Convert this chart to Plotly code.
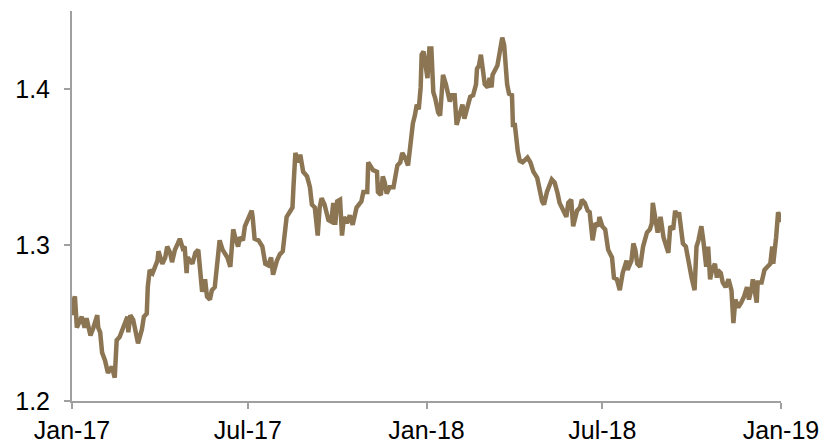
import pandas as pd
import plotly.graph_objects as go

# Day offsets from 2017-01-01 and the series values
day_offset = [
    0, 1, 3, 5, 10, 13, 15, 19, 22, 26, 27, 29, 31, 34, 37, 41, 44, 46, 49, 53,
    57, 58, 60, 63, 67, 68, 72, 74, 77, 78, 80, 83, 88, 89, 93, 96, 98, 101, 103, 106,
    109, 111, 114, 116, 118, 119, 124, 127, 130, 132, 134, 137, 139, 142, 144, 147, 150, 152, 155, 160,
    163, 166, 168, 171, 173, 176, 178, 181, 185, 186, 188, 192, 196, 199, 202, 205, 207, 211, 214, 217,
    221, 224, 227, 228, 230, 233, 235, 238, 242, 245, 247, 250, 253, 255, 257, 260, 264, 267, 269, 271,
    273, 276, 278, 280, 283, 286, 289, 293, 298, 300, 304, 305, 308, 310, 314, 315, 318, 320, 322, 324,
    327, 331, 335, 338, 340, 343, 346, 349, 351, 353, 355, 357, 359, 360, 362, 366, 368, 370, 372, 374,
    377, 379, 382, 385, 387, 389, 391, 394, 396, 397, 402, 404, 407, 410, 413, 416, 417, 419, 421, 423,
    425, 428, 430, 432, 433, 438, 441, 443, 445, 448, 450, 453, 454, 456, 459, 461, 464, 469, 472, 475,
    479, 482, 484, 486, 489, 494, 497, 500, 502, 506, 509, 511, 514, 516, 520, 523, 525, 528, 531, 533,
    536, 539, 542, 543, 546, 549, 552, 556, 558, 561, 564, 567, 571, 572, 576, 578, 580, 582, 585, 588,
    592, 595, 597, 598, 600, 603, 606, 609, 612, 614, 616, 619, 621, 623, 625, 627, 629, 632, 634, 636,
    638, 641, 643, 645, 648, 650, 653, 655, 657, 659, 662, 664, 665, 668, 670, 673, 676, 679, 681, 683,
    686, 689, 692, 695, 697, 700, 701, 705, 706, 710, 713, 716, 719, 721, 722, 725, 727, 729, 731,
]
values = [
    1.255, 1.263, 1.267, 1.247, 1.254, 1.247, 1.253, 1.242, 1.247, 1.255, 1.247, 1.244, 1.231, 1.226, 1.218, 1.222, 1.215, 1.239, 1.241, 1.247,
    1.254, 1.244, 1.255, 1.252, 1.242, 1.237, 1.246, 1.254, 1.256, 1.273, 1.284, 1.282, 1.290, 1.296, 1.288, 1.292, 1.299, 1.295, 1.289, 1.297,
    1.301, 1.304, 1.298, 1.299, 1.282, 1.292, 1.288, 1.295, 1.297, 1.282, 1.270, 1.278, 1.267, 1.265, 1.271, 1.273, 1.290, 1.303, 1.297, 1.292,
    1.286, 1.310, 1.305, 1.299, 1.305, 1.303, 1.312, 1.316, 1.322, 1.318, 1.304, 1.303, 1.299, 1.288, 1.287, 1.292, 1.281, 1.290, 1.294, 1.296,
    1.318, 1.321, 1.324, 1.337, 1.359, 1.353, 1.358, 1.347, 1.344, 1.337, 1.326, 1.324, 1.306, 1.324, 1.330, 1.326, 1.316, 1.315, 1.327, 1.313,
    1.328, 1.329, 1.306, 1.318, 1.314, 1.319, 1.313, 1.324, 1.328, 1.334, 1.334, 1.353, 1.349, 1.348, 1.347, 1.334, 1.332, 1.344, 1.340, 1.333,
    1.337, 1.337, 1.351, 1.353, 1.359, 1.356, 1.351, 1.372, 1.378, 1.383, 1.390, 1.387, 1.401, 1.422, 1.424, 1.407, 1.426, 1.426, 1.398, 1.394,
    1.385, 1.383, 1.409, 1.403, 1.398, 1.392, 1.396, 1.396, 1.377, 1.379, 1.390, 1.381, 1.388, 1.395, 1.396, 1.403, 1.413, 1.415, 1.422, 1.413,
    1.403, 1.401, 1.407, 1.401, 1.409, 1.415, 1.424, 1.433, 1.428, 1.403, 1.397, 1.396, 1.377, 1.377, 1.360, 1.354, 1.353, 1.356, 1.353, 1.347,
    1.343, 1.332, 1.328, 1.326, 1.334, 1.342, 1.340, 1.333, 1.327, 1.322, 1.318, 1.327, 1.329, 1.312, 1.322, 1.324, 1.329, 1.327, 1.322, 1.321,
    1.303, 1.314, 1.312, 1.318, 1.312, 1.310, 1.297, 1.292, 1.279, 1.278, 1.271, 1.282, 1.290, 1.284, 1.290, 1.301, 1.297, 1.288, 1.286, 1.299,
    1.308, 1.310, 1.314, 1.327, 1.318, 1.308, 1.318, 1.305, 1.299, 1.295, 1.312, 1.310, 1.322, 1.318, 1.321, 1.308, 1.301, 1.299, 1.292, 1.282,
    1.279, 1.271, 1.299, 1.303, 1.312, 1.303, 1.286, 1.299, 1.278, 1.284, 1.288, 1.279, 1.284, 1.282, 1.276, 1.273, 1.278, 1.271, 1.250, 1.265,
    1.260, 1.263, 1.267, 1.273, 1.265, 1.273, 1.278, 1.263, 1.276, 1.276, 1.284, 1.286, 1.288, 1.299, 1.288, 1.305, 1.321, 1.318, 1.315,
]

tick_dates = ["2017-01-01", "2017-07-01", "2018-01-01", "2018-07-01", "2019-01-01"]
tick_labels = ["Jan-17", "Jul-17", "Jan-18", "Jul-18", "Jan-19"]
y_ticks = [1.2, 1.3, 1.4]
y_labels = ["1.2", "1.3", "1.4"]

dates = pd.Timestamp("2017-01-01") + pd.to_timedelta(day_offset, unit="D")

FONT = "Liberation Sans, Arial, sans-serif"
AXIS = "#a0a0a0"

fig = go.Figure(
    go.Scatter(
        x=dates, y=values, mode="lines",
        line=dict(color="#8B7553", width=4.5),
        hoverinfo="skip",
    )
)

# The page body adds an 8px offset, so the figure is sized to fill the rest.
fig.update_layout(
    width=821, height=438,
    margin=dict(l=64, r=48, t=3, b=45),
    paper_bgcolor="white", plot_bgcolor="white",
    showlegend=False,
    font=dict(family=FONT, size=25, color="black"),
)
fig.update_xaxes(
    range=["2017-01-01", "2019-01-01"],
    tickmode="array", tickvals=tick_dates, ticktext=tick_labels,
    showgrid=False, zeroline=False, automargin=False,
    showline=True, linecolor=AXIS, linewidth=2,
    ticks="outside", ticklen=6, tickcolor=AXIS, tickwidth=2,
    ticklabelstandoff=0,
    tickfont=dict(family=FONT, size=25, color="black"),
)
fig.update_yaxes(
    range=[1.2, 1.45],
    tickmode="array", tickvals=y_ticks, ticktext=y_labels,
    showgrid=False, zeroline=False, automargin=False,
    showline=True, linecolor=AXIS, linewidth=2,
    ticks="outside", ticklen=6, tickcolor=AXIS, tickwidth=2,
    ticklabelstandoff=9,
    tickfont=dict(family=FONT, size=25, color="black"),
)

fig.write_html("out.html")
